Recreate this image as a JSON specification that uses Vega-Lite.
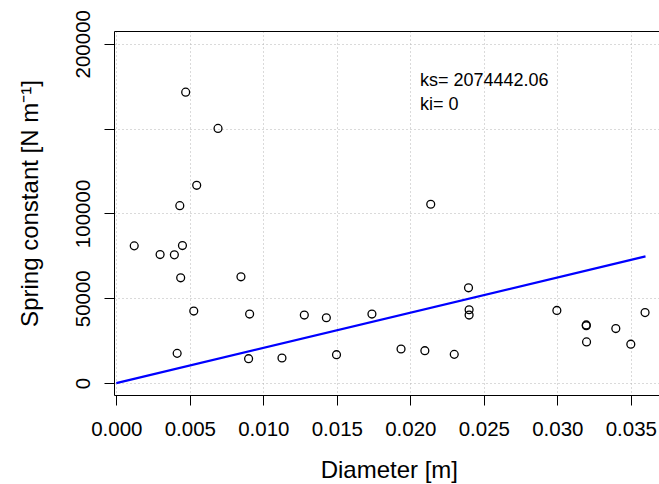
{
  "$schema": "https://vega.github.io/schema/vega-lite/v6.json",
  "width": 545,
  "height": 364,
  "autosize": {"type": "none"},
  "padding": {"left": 114, "top": 31, "right": 0, "bottom": 89},
  "background": "white",
  "config": {
    "font": "Liberation Sans",
    "view": {"stroke": null},
    "axis": {
      "domainColor": "#000000",
      "domainWidth": 1,
      "tickColor": "#000000",
      "tickWidth": 1,
      "tickSize": 10,
      "labelColor": "#000000",
      "labelFontSize": 20.5,
      "titleColor": "#000000",
      "titleFontSize": 24,
      "titleFontWeight": "normal",
      "labelFlush": false,
      "labelOverlap": false,
      "gridColor": "#b4b4b4",
      "gridDash": [1, 3],
      "gridWidth": 1,
      "gridOpacity": 1
    }
  },
  "datasets": {
    "pts": [
      {"diameter": 0.00122, "k": 80880},
      {"diameter": 0.00298, "k": 75760},
      {"diameter": 0.00395, "k": 75590},
      {"diameter": 0.0045, "k": 81050},
      {"diameter": 0.00432, "k": 104580},
      {"diameter": 0.00438, "k": 62060},
      {"diameter": 0.00527, "k": 42470},
      {"diameter": 0.00414, "k": 17530},
      {"diameter": 0.00848, "k": 62640},
      {"diameter": 0.00907, "k": 40700},
      {"diameter": 0.009, "k": 14410},
      {"diameter": 0.01127, "k": 14820},
      {"diameter": 0.01279, "k": 40120},
      {"diameter": 0.01429, "k": 38530},
      {"diameter": 0.01498, "k": 16760},
      {"diameter": 0.01739, "k": 40700},
      {"diameter": 0.01937, "k": 20120},
      {"diameter": 0.02099, "k": 19120},
      {"diameter": 0.02139, "k": 105410},
      {"diameter": 0.02299, "k": 16940},
      {"diameter": 0.02396, "k": 56170},
      {"diameter": 0.024, "k": 43230},
      {"diameter": 0.024, "k": 40120},
      {"diameter": 0.02997, "k": 42820},
      {"diameter": 0.03197, "k": 34300},
      {"diameter": 0.03197, "k": 33800},
      {"diameter": 0.03199, "k": 24300},
      {"diameter": 0.03398, "k": 32150},
      {"diameter": 0.035, "k": 22950},
      {"diameter": 0.03597, "k": 41550},
      {"diameter": 0.00472, "k": 171460},
      {"diameter": 0.00692, "k": 150110},
      {"diameter": 0.00547, "k": 116580}
    ],
    "fit": [
      {"diameter": 0, "k": 0},
      {"diameter": 0.036, "k": 74680}
    ],
    "ann": [
      {"x": 0.02066, "y": 175170, "label": "ks= 2074442.06"},
      {"x": 0.02066, "y": 161020, "label": "ki= 0"}
    ]
  },
  "layer": [
    {
      "data": {"name": "pts"},
      "mark": {"type": "point", "shape": "circle", "filled": false, "stroke": "#000000", "strokeWidth": 1.3, "size": 62, "opacity": 1},
      "encoding": {
        "x": {
          "field": "diameter",
          "type": "quantitative",
          "scale": {"domain": [-0.000156, 0.036918], "nice": false, "zero": false},
          "axis": {
            "orient": "bottom",
            "values": [0, 0.005, 0.01, 0.015, 0.02, 0.025, 0.03, 0.035],
            "format": ".3f",
            "labelPadding": 14.2,
            "grid": true,
            "title": "Diameter [m]",
            "titleX": 274.8,
            "titleY": 82.7,
            "titleBaseline": "alphabetic",
            "titleAlign": "center"
          }
        },
        "y": {
          "field": "k",
          "type": "quantitative",
          "scale": {"domain": [-7000, 207500], "nice": false, "zero": false},
          "axis": {
            "values": [0, 50000, 100000, 150000, 200000],
            "format": "d",
            "labelExpr": "datum.value == 150000 ? '' : datum.label",
            "labelAngle": -90,
            "labelAlign": "center",
            "labelBaseline": "alphabetic",
            "labelPadding": 14.7,
            "grid": true,
            "title": "Spring constant [N m⁻¹]",
            "titleAngle": -90,
            "titleX": -76.7,
            "titleY": 172,
            "titleBaseline": "alphabetic",
            "titleAlign": "center"
          }
        }
      }
    },
    {
      "data": {"name": "fit"},
      "mark": {"type": "line", "color": "#0000ff", "strokeWidth": 2.2},
      "encoding": {
        "x": {
          "field": "diameter",
          "type": "quantitative",
          "axis": {"orient": "top", "ticks": false, "labels": false, "grid": false, "title": null, "domain": true}
        },
        "y": {"field": "k", "type": "quantitative", "axis": null}
      }
    },
    {
      "data": {"name": "ann"},
      "mark": {"type": "text", "align": "left", "baseline": "alphabetic", "fontSize": 18, "color": "#000000"},
      "encoding": {
        "x": {"field": "x", "type": "quantitative", "axis": null},
        "y": {"field": "y", "type": "quantitative", "axis": null},
        "text": {"field": "label"}
      }
    }
  ],
  "resolve": {"axis": {"x": "independent", "y": "independent"}}
}
